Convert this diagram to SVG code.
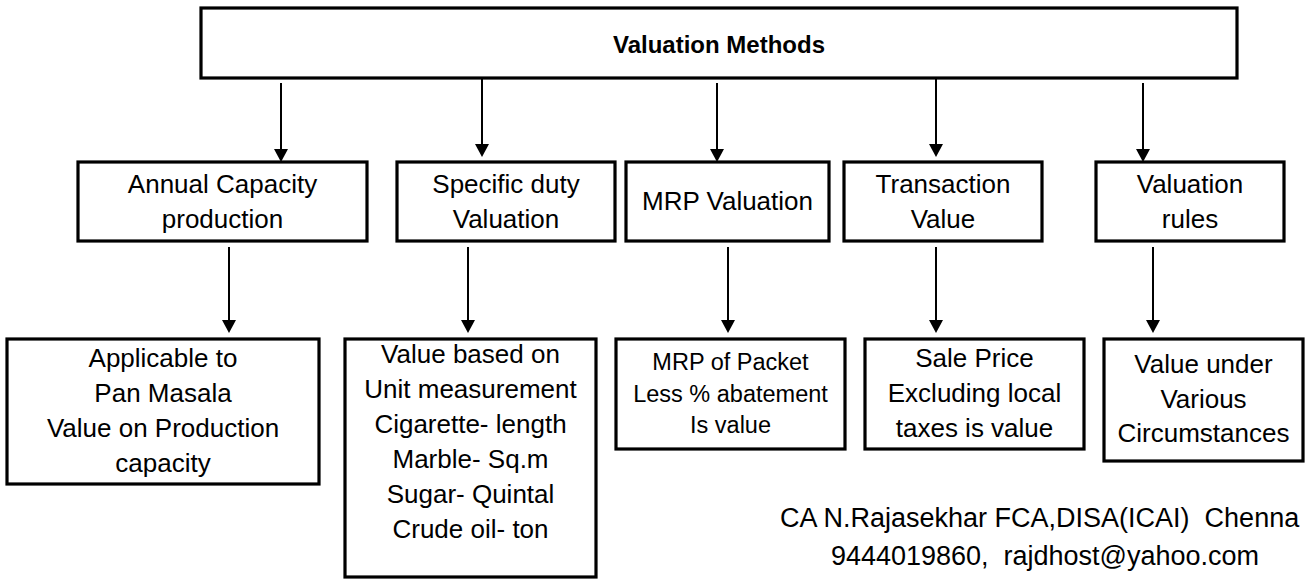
<svg xmlns="http://www.w3.org/2000/svg" width="1306" height="581" viewBox="0 0 1306 581">
<style>
.box{fill:#fff;stroke:#000;stroke-width:3.2}
.t{font-family:"Liberation Sans",Arial,sans-serif;font-size:26px;fill:#000;text-anchor:middle}
.s{font-size:23.5px}
.title{font-family:"Liberation Sans",Arial,sans-serif;font-size:24px;font-weight:bold;fill:#000;text-anchor:middle}
.sig{font-family:"Liberation Sans",Arial,sans-serif;font-size:27px;fill:#000}
.c{stroke:#000;stroke-width:2;fill:none;marker-end:url(#ah)}
</style>
<defs>
<marker id="ah" markerUnits="userSpaceOnUse" markerWidth="14" markerHeight="14" refX="0" refY="7" orient="auto">
<path d="M0,0 L13,7 L0,14 z" fill="#000"/>
</marker>
</defs>
<rect width="1306" height="581" fill="#fff"/>
<g id="connectors">
<line class="c" x1="281" y1="83" x2="281" y2="149"/>
<line class="c" x1="482" y1="72" x2="482" y2="144"/>
<line class="c" x1="717" y1="83" x2="717" y2="149"/>
<line class="c" x1="936" y1="72" x2="936" y2="144"/>
<line class="c" x1="1143" y1="83" x2="1143" y2="149"/>
<line class="c" x1="229" y1="247" x2="229" y2="320"/>
<line class="c" x1="468" y1="247" x2="468" y2="320"/>
<line class="c" x1="728" y1="247" x2="728" y2="320"/>
<line class="c" x1="936" y1="247" x2="936" y2="320"/>
<line class="c" x1="1153" y1="247" x2="1153" y2="320"/>
</g>
<g id="valuation-methods">
<rect class="box" x="201" y="8" width="1036" height="70"/>
<text class="title" x="719" y="53">Valuation Methods</text>
</g>
<g id="annual-capacity">
<rect class="box" x="78" y="162" width="289" height="79"/>
<text class="t" x="222.5" y="193">Annual Capacity</text>
<text class="t" x="222.5" y="228">production</text>
</g>
<g id="specific-duty">
<rect class="box" x="397" y="162" width="218" height="79"/>
<text class="t" x="506" y="193">Specific duty</text>
<text class="t" x="506" y="228">Valuation</text>
</g>
<g id="mrp-valuation">
<rect class="box" x="626" y="162" width="203" height="79"/>
<text class="t" x="727.5" y="210">MRP Valuation</text>
</g>
<g id="transaction-value">
<rect class="box" x="844" y="162" width="198" height="79"/>
<text class="t" x="943" y="193">Transaction</text>
<text class="t" x="943" y="228">Value</text>
</g>
<g id="valuation-rules">
<rect class="box" x="1096" y="162" width="188" height="79"/>
<text class="t" x="1190" y="193">Valuation</text>
<text class="t" x="1190" y="228">rules</text>
</g>
<g id="pan-masala">
<rect class="box" x="7" y="339" width="312" height="145"/>
<text class="t" x="163" y="367">Applicable to</text>
<text class="t" x="163" y="402">Pan Masala</text>
<text class="t" x="163" y="437">Value on Production</text>
<text class="t" x="163" y="472">capacity</text>
</g>
<g id="unit-measurement">
<rect class="box" x="345" y="339" width="251" height="238"/>
<text class="t" x="470.5" y="363">Value based on</text>
<text class="t" x="470.5" y="398">Unit measurement</text>
<text class="t" x="470.5" y="433">Cigarette- length</text>
<text class="t" x="470.5" y="468">Marble- Sq.m</text>
<text class="t" x="470.5" y="503">Sugar- Quintal</text>
<text class="t" x="470.5" y="538">Crude oil- ton</text>
</g>
<g id="mrp-packet">
<rect class="box" x="616" y="339" width="229" height="110"/>
<text class="t s" x="730.5" y="370">MRP of Packet</text>
<text class="t s" x="730.5" y="402">Less % abatement</text>
<text class="t s" x="730.5" y="433">Is value</text>
</g>
<g id="sale-price">
<rect class="box" x="865" y="339" width="219" height="110"/>
<text class="t" x="974.5" y="367">Sale Price</text>
<text class="t" x="974.5" y="402">Excluding local</text>
<text class="t" x="974.5" y="437">taxes is value</text>
</g>
<g id="various-circumstances">
<rect class="box" x="1104" y="339" width="199" height="122"/>
<text class="t" x="1203.5" y="373">Value under</text>
<text class="t" x="1203.5" y="408">Various</text>
<text class="t" x="1203.5" y="442">Circumstances</text>
</g>
<g id="signature">
<text class="sig" x="780" y="527" xml:space="preserve">CA N.Rajasekhar FCA,DISA(ICAI)  Chenna</text>
<text class="sig" x="1045" y="565" text-anchor="middle" xml:space="preserve">9444019860,  rajdhost@yahoo.com</text>
</g>
</svg>
